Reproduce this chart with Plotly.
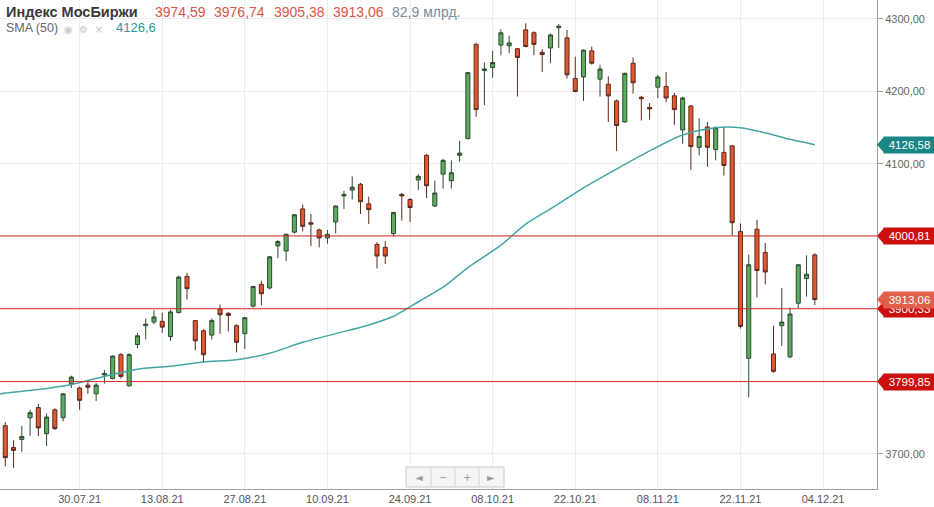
import plotly.graph_objects as go
import pandas as pd

# ---------------- data ----------------
dates = [d.strftime("%d.%m.%y") for d in pd.bdate_range("2021-07-19", "2021-12-03") if d.strftime("%Y-%m-%d") != "2021-11-04"]

opens = [3739, 3709, 3720, 3750, 3764, 3728, 3761, 3750, 3797, 3791,
         3795, 3783, 3809, 3804, 3837, 3794, 3851, 3877, 3882, 3883,
         3862, 3895, 3945, 3884, 3870, 3864, 3900, 3894, 3877, 3866,
         3904, 3934, 3929, 3987, 3980, 4006, 4038, 4019, 4009, 3998,
         4020, 4056, 4064, 4072, 4045, 3989, 3985, 4004, 4058, 4051,
         4078, 4112, 4042, 4086, 4077, 4112, 4135, 4265, 4229, 4233,
         4264, 4263, 4259, 4285, 4281, 4254, 4260, 4288, 4274, 4218,
         4220, 4256, 4217, 4210, 4187, 4158, 4239, 4192, 4178, 4206,
         4207, 4194, 4147, 4180, 4123, 4151, 4120, 4116, 4125, 4007,
         3832, 4010, 3978, 3838, 3877, 3834, 3908, 3942, 3974.59]
highs = [3744, 3719, 3739, 3761, 3769, 3756, 3763, 3784, 3808, 3793,
         3802, 3798, 3816, 3836, 3839, 3839, 3867, 3887, 3898, 3895,
         3899, 3946, 3950, 3885, 3872, 3887, 3906, 3896, 3879, 3889,
         3932, 3939, 3973, 3995, 4004, 4031, 4044, 4031, 4011, 4009,
         4043, 4063, 4083, 4074, 4055, 3992, 3994, 4034, 4060, 4053,
         4086, 4114, 4077, 4107, 4105, 4132, 4227, 4267, 4240, 4256,
         4286, 4277, 4260, 4294, 4283, 4258, 4280, 4293, 4285, 4248,
         4258, 4262, 4237, 4221, 4189, 4226, 4247, 4194, 4184, 4223,
         4227, 4198, 4193, 4181, 4163, 4158, 4152, 4151, 4126, 4018,
         3975, 4023, 3991, 3877, 3929, 3902, 3962, 3974, 3976.74]
lows = [3683, 3681, 3703, 3725, 3725, 3711, 3733, 3745, 3791, 3761,
        3783, 3773, 3797, 3803, 3804, 3793, 3846, 3858, 3879, 3867,
        3856, 3894, 3913, 3843, 3826, 3858, 3866, 3869, 3840, 3845,
        3902, 3905, 3927, 3970, 3966, 4004, 4007, 3987, 3985, 3990,
        4004, 4038, 4051, 4031, 4017, 3956, 3962, 4000, 4022, 4020,
        4064, 4053, 4041, 4066, 4066, 4103, 4134, 4165, 4181, 4219,
        4250, 4253, 4193, 4261, 4250, 4227, 4239, 4260, 4218, 4199,
        4187, 4237, 4193, 4158, 4118, 4157, 4197, 4160, 4161, 4191,
        4185, 4154, 4128, 4092, 4112, 4096, 4105, 4084, 4002, 3873,
        3778, 3916, 3934, 3812, 3849, 3832, 3901, 3917, 3905.38]
closes = [3695, 3705, 3724, 3757, 3736, 3751, 3735, 3783, 3806, 3774,
          3792, 3795, 3811, 3835, 3807, 3837, 3863, 3879, 3889, 3875,
          3896, 3944, 3928, 3856, 3837, 3884, 3892, 3891, 3854, 3888,
          3931, 3921, 3972, 3993, 4003, 4030, 4014, 4017, 3998, 4003,
          4042, 4058, 4068, 4048, 4037, 3973, 3973, 4033, 4056, 4040,
          4083, 4070, 4060, 4105, 4088, 4115, 4226, 4175, 4231, 4240,
          4281, 4267, 4247, 4262, 4265, 4251, 4278, 4290, 4223, 4200,
          4257, 4239, 4231, 4194, 4153, 4225, 4212, 4190, 4176, 4220,
          4191, 4175, 4191, 4124, 4138, 4123, 4150, 4098, 4019, 3876,
          3961, 3953, 3951, 3814, 3882, 3893, 3961, 3948, 3913.06]

# SMA(50) read at selected trading-day indices
sma_idx = [-1, 0, 4, 8, 12, 16, 20, 24, 28, 32, 36, 40, 44, 47, 50, 53, 56, 60,
           63, 66, 70, 74, 78, 82, 86, 89, 92, 95, 98]
sma_vals = [3782, 3784, 3789, 3796, 3807, 3817, 3821, 3827, 3830, 3839, 3854, 3866,
            3878, 3890, 3910, 3930, 3957, 3988, 4017, 4038, 4067, 4093, 4118, 4140,
            4150, 4150, 4143, 4134, 4126.6]

tick_idx = [9, 19, 29, 39, 49, 59, 69, 79, 89, 99]
tick_labels = ["30.07.21", "13.08.21", "27.08.21", "10.09.21", "24.09.21",
               "08.10.21", "22.10.21", "08.11.21", "22.11.21", "04.12.21"]

# 3800/3900/4000 labels are hidden behind the level tags in the reference
y_ticks = [3700, 3800, 3900, 4000, 4100, 4200, 4300]
y_labels = ["3700,00", "", "", "", "4100,00", "4200,00", "4300,00"]

levels = [4000.81, 3900.33, 3799.85]
# price tags: value, text, colour (drawn in this order)
tag_vals = [4126.58, 4000.81, 3900.33, 3799.85, 3913.06]
tag_texts = ["4126,58", "4000,81", "3900,33", "3799,85", "3913,06"]
tag_colors = ["#1c8585", "#cc1010", "#cc1010", "#cc1010", "#e0604c"]

header_title = "Индекс МосБиржи"
header_ohlc = ["3974,59", "3976,74", "3905,38", "3913,06"]
header_volume = "82,9 млрд."
sma_label = "SMA (50)"
sma_last = "4126,6"

# ---------------- layout geometry ----------------
W, H = 934, 507
ML, MR, MT, MB = 0, 57, 0, 18
PW, PH = W - ML - MR, H - MT - MB
Y0, Y1 = 3651.7, 4326.2
X0, X1 = -0.64, 105.53
FONT = "Liberation Sans, Arial, sans-serif"


def px(xp):
    return xp / PW


def py(yp):
    return 1 - yp / PH


def yv(val):
    return (val - Y0) / (Y1 - Y0)


x = list(range(len(dates)))

fig = go.Figure()
fig.add_trace(go.Candlestick(
    x=x, open=opens, high=highs, low=lows, close=closes,
    increasing=dict(line=dict(color="#2e4b30", width=1), fillcolor="#5aad5e"),
    decreasing=dict(line=dict(color="#5a2a1e", width=1), fillcolor="#e4572e"),
    whiskerwidth=0, hoverinfo="skip", showlegend=False,
))
fig.add_trace(go.Scatter(
    x=sma_idx, y=sma_vals, mode="lines",
    line=dict(color="#45a6a6", width=1.5, shape="spline", smoothing=0.8),
    hoverinfo="skip", showlegend=False,
))

shapes = []
for lv in levels:
    shapes.append(dict(type="line", xref="paper", yref="y", x0=0, x1=1, y0=lv, y1=lv,
                       line=dict(color="#d42a2a", width=1), layer="above"))

annotations = []
hh = 8 / PH
for v, t, c in zip(tag_vals, tag_texts, tag_colors):
    yc = yv(v)
    shapes.append(dict(type="path", xref="paper", yref="paper",
                       path=f"M {px(877)},{yc} L {px(884)},{yc + hh} L {px(884)},{yc - hh} Z",
                       fillcolor=c, line=dict(width=0), layer="above"))
    annotations.append(dict(xref="paper", yref="paper", x=px(883), y=yc, xanchor="left",
                            yanchor="middle", text=t, showarrow=False, bgcolor=c,
                            width=49, height=14, borderpad=1, align="center",
                            font=dict(family=FONT, size=11.5, color="white")))

# navigation widget
nx0, nx1, ny0, ny1 = 406, 504, 467, 487
shapes.append(dict(type="rect", xref="paper", yref="paper", x0=px(nx0), x1=px(nx1),
                   y0=py(ny1), y1=py(ny0), fillcolor="#f5f5f5",
                   line=dict(color="#c9c9c9", width=1), layer="above"))
for dx in [431, 455, 479]:
    shapes.append(dict(type="line", xref="paper", yref="paper", x0=px(dx), x1=px(dx),
                       y0=py(ny1 - 1), y1=py(ny0 + 1), line=dict(color="#d5d5d5", width=1),
                       layer="above"))
for cx, sym in zip([419, 443, 467, 491], ["◄", "−", "+", "►"]):
    annotations.append(dict(xref="paper", yref="paper", x=px(cx), y=py(477), text=sym,
                            showarrow=False, xanchor="center", yanchor="middle",
                            font=dict(family="DejaVu Sans", size=10, color="#9a9a9a")))

# header texts
annotations.append(dict(xref="paper", yref="paper", x=px(4), y=py(12), xanchor="left",
                        yanchor="middle", showarrow=False, text=f"<b>{header_title}</b>",
                        font=dict(family=FONT, size=14.5, color="#3a3a3a")))
for xp, t in zip([153, 212, 272, 331], header_ohlc):
    annotations.append(dict(xref="paper", yref="paper", x=px(xp), y=py(12), xanchor="left",
                            yanchor="middle", showarrow=False, text=t,
                            font=dict(family=FONT, size=14, color="#dd5444")))
annotations.append(dict(xref="paper", yref="paper", x=px(390), y=py(12), xanchor="left",
                        yanchor="middle", showarrow=False, text=header_volume,
                        font=dict(family=FONT, size=14, color="#7b8ba0")))
annotations.append(dict(xref="paper", yref="paper", x=px(4), y=py(28), xanchor="left",
                        yanchor="middle", showarrow=False, text=sma_label,
                        font=dict(family=FONT, size=12.5, color="#666666")))
annotations.append(dict(xref="paper", yref="paper", x=px(62), y=py(29), xanchor="left",
                        yanchor="middle", showarrow=False, text="◉  ⚙  ×",
                        font=dict(family="DejaVu Sans", size=10, color="#c8c8c8")))
annotations.append(dict(xref="paper", yref="paper", x=px(114), y=py(28), xanchor="left",
                        yanchor="middle", showarrow=False, text=sma_last,
                        font=dict(family=FONT, size=13, color="#2a9a9a")))

fig.update_layout(
    width=W, height=H,
    margin=dict(l=ML, r=MR, t=MT, b=MB, pad=0),
    paper_bgcolor="white", plot_bgcolor="white",
    font=dict(family=FONT),
    shapes=shapes, annotations=annotations,
    xaxis=dict(range=[X0, X1], tickmode="array", tickvals=tick_idx, ticktext=tick_labels,
               showgrid=True, gridcolor="#ececec", gridwidth=1, zeroline=False,
               showline=True, linecolor="#a0a0a0", linewidth=1, ticks="",
               tickfont=dict(size=11, color="#555555"), rangeslider=dict(visible=False),
               fixedrange=True),
    yaxis=dict(range=[Y0, Y1], side="right", tickmode="array", tickvals=y_ticks,
               ticktext=y_labels, showgrid=True, gridcolor="#ececec", gridwidth=1,
               zeroline=False, showline=True, linecolor="#a0a0a0", linewidth=1,
               ticks="outside", ticklen=5, tickcolor="#a0a0a0",
               tickfont=dict(size=11, color="#666666"), fixedrange=True),
)

fig.write_html("out.html", config={"displayModeBar": False},
               post_script="document.body.style.margin='0';document.body.style.overflow='hidden';")
